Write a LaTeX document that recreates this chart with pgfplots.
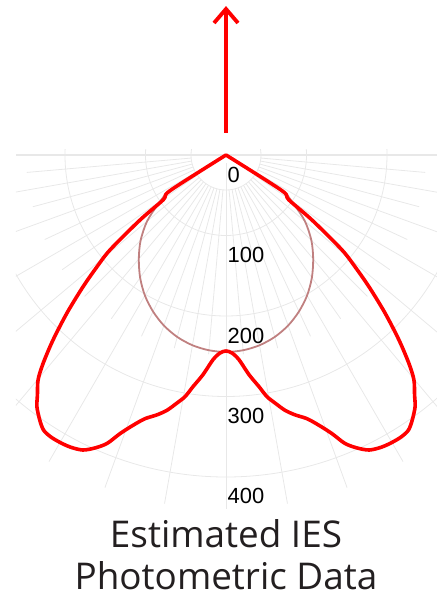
\documentclass[border=0pt]{standalone}
\usepackage{pgfplots}
\pgfplotsset{compat=1.18}
\usepackage{pgfplotstable}
\usepackage{fontspec}
\setmainfont{Liberation Sans}
\newfontfamily\titlefont{Open Sans}
\definecolor{gridc}{RGB}{232,232,232}
\definecolor{pinkc}{RGB}{192,128,128}
\definecolor{titlec}{RGB}{35,31,32}

% angle a: degrees from nadir (negative = left), cd: candela
\pgfplotstableread{
a cd
-90 0
-57.5 82.0
-54.5 95.6
-52.9 134.1
-50.7 186.3
-49.0 213.6
-47.3 242.2
-45.2 278.2
-43.1 314.2
-41.3 344.0
-39.9 363.9
-38.2 378.8
-36.9 391.2
-35.1 402.4
-33.6 409.9
-32.0 412.3
-30.0 412.3
-28.0 411.1
-25.9 407.4
-24.1 398.7
-22.4 387.5
-20.8 370.1
-19.0 355.2
-17.1 342.8
-14.9 334.1
-13.0 325.4
-11.2 314.2
-9.6 304.3
-8.1 290.6
-6.0 274.5
-3.6 254.6
-1.7 246.0
0 243.5
1.7 246.0
3.6 254.6
6.0 274.5
8.1 290.6
9.6 304.3
11.2 314.2
13.0 325.4
14.9 334.1
17.1 342.8
19.0 355.2
20.8 370.1
22.4 387.5
24.1 398.7
25.9 407.4
28.0 411.1
30.0 412.3
32.0 412.3
33.6 409.9
35.1 402.4
36.9 391.2
38.2 378.8
39.9 363.9
41.3 344.0
43.1 314.2
45.2 278.2
47.3 242.2
49.0 213.6
50.7 186.3
52.9 134.1
54.5 95.6
57.5 82.0
90 0
}\redtable

\pgfplotstableread{
a cd
-90 0
-57.5 80
-54 104
-50 128
-45 150
-40 168.5
-35 186
-30 201.5
-25 214.5
-20 225.5
-15 234
-10 240
-5 243.5
0 244.7
5 243.5
10 240
15 234
20 225.5
25 214.5
30 201.5
35 186
40 168.5
45 150
50 128
54 104
57.5 80
90 0
}\pinktable

\begin{document}
\begin{tikzpicture}
\path[use as bounding box] (-226bp,-442bp) rectangle (211bp,155bp);
% grid
\begin{scope}
\clip (-210bp,5bp) rectangle (211bp,-442bp);
\foreach \r in {35,80.5,161,241.5,322}
  \draw[gridc, line width=0.8bp] (0,0) circle[radius=\r bp];
\foreach \a in {-175,-170,...,-5}
  \draw[gridc, line width=0.8bp] (\a:35bp) -- (\a:200bp);
\foreach \a in {-170,-160,...,-10}
  \draw[gridc, line width=0.8bp] (\a:200bp) -- (\a:354bp);
\draw[gridc, line width=0.8bp] (0,-8bp) -- (0,-354bp);
\draw[gridc, line width=1.8bp] (-210bp,0) -- (211bp,0);
\end{scope}

\begin{axis}[at={(0,0)}, anchor=origin,
  x=0.805bp, y=0.805bp,
  xmin=-280.7, xmax=262.1, ymin=-549.1, ymax=192.5,
  hide axis, clip=false]
\addplot[pinkc, line width=1.8bp, smooth, tension=0.5, data cs=polar, line cap=round]
  table[x expr=\thisrow{a}-90, y=cd] {\pinktable};
\addplot[red, line width=3.6bp, smooth, tension=0.5, data cs=polar, line cap=round, line join=round]
  table[x expr=\thisrow{a}-90, y=cd] {\redtable};
\end{axis}

% arrow
\draw[red, line width=3.8bp] (0,22bp) -- (0,145bp);
\draw[red, line width=3.8bp, line join=miter] (-12bp,132bp) -- (0,146bp) -- (12bp,132bp);

% radial labels
\foreach \v/\b in {0/27,100/107.5,200/188,300/268,400/348}
  \node[anchor=base west, inner sep=0pt, font=\fontsize{22}{22}\selectfont] at (1.5bp,-\b bp) {\v};

% title
\node[anchor=base, inner sep=0pt, text depth=0pt, text=titlec, font=\titlefont\fontsize{37}{37}\selectfont] at (0,-392bp) {Estimated IES};
\node[anchor=base, inner sep=0pt, text depth=0pt, text=titlec, font=\titlefont\fontsize{37}{37}\selectfont] at (0,-434bp) {Photometric Data};
\end{tikzpicture}
\end{document}
